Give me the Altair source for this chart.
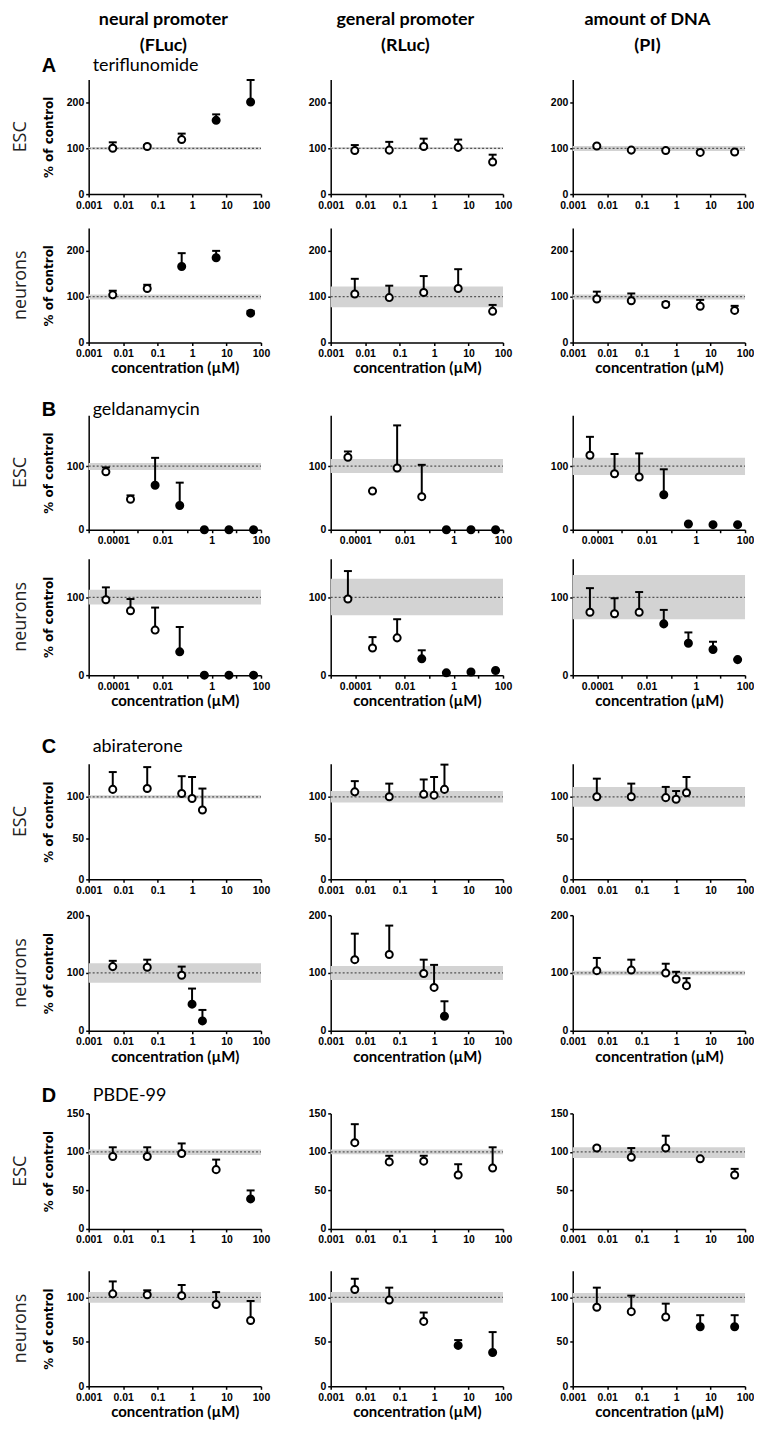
import altair as alt
import pandas as pd

# ---------------- text ----------------
HEADER_LINE1 = ["neural promoter", "general promoter", "amount of DNA"]
HEADER_LINE2 = ["(FLuc)", "(RLuc)", "(PI)"]
LETTERS = ["A", "B", "C", "D"]
COMPOUNDS = ["teriflunomide", "geldanamycin", "abiraterone", "PBDE-99"]
ROW_LABELS = ["ESC", "neurons"]
X_TITLE = "concentration (µM)"
Y_TITLE = "% of control"

# ---------------- concentrations (µM) ----------------
CONC_TERI = [0.005, 0.05, 0.5, 5, 50]
CONC_GELD = [0.00005, 0.0005, 0.005, 0.05, 0.5, 5, 50]
CONC_ABI = [0.005, 0.05, 0.5, 1, 2]
CONC_PBDE = [0.005, 0.05, 0.5, 5, 50]

X_DOMAIN_STD = [0.001, 100]
X_TICKS_STD = [0.001, 0.01, 0.1, 1, 10, 100]
X_DOMAIN_GELD = [0.00001, 100]
X_TICKS_GELD = [0.00001, 0.0001, 0.001, 0.01, 0.1, 1, 10, 100]

# ---------------- y axes ----------------
Y_DOMAIN_TERI = [0, 250]
Y_TICKS_TERI = [0, 100, 200]
Y_DOMAIN_GELD_ESC = [0, 180]
Y_DOMAIN_GELD_NEU = [0, 150]
Y_TICKS_GELD = [0, 100]
Y_DOMAIN_ABI_ESC = [0, 140]
Y_TICKS_ABI_ESC = [0, 50, 100]
Y_DOMAIN_ABI_NEU = [0, 200]
Y_TICKS_ABI_NEU = [0, 100, 200]
Y_DOMAIN_PBDE_ESC = [0, 150]
Y_TICKS_PBDE_ESC = [0, 50, 100, 150]
Y_DOMAIN_PBDE_NEU = [0, 130]
Y_TICKS_PBDE_NEU = [0, 50, 100]

# ---------------- A: teriflunomide ----------------
A_ESC_FLUC_MEAN = [100, 104, 119, 161, 201]
A_ESC_FLUC_TOP = [113, 107, 132, 174, 249]
A_ESC_FLUC_SIG = [0, 0, 0, 1, 1]
A_ESC_FLUC_BAND = [97, 103]
A_ESC_RLUC_MEAN = [95, 96, 104, 102, 70]
A_ESC_RLUC_TOP = [107, 114, 121, 119, 86]
A_ESC_RLUC_SIG = [0, 0, 0, 0, 0]
A_ESC_RLUC_BAND = [98, 102]
A_ESC_PI_MEAN = [105, 96, 95, 91, 92]
A_ESC_PI_TOP = [107, 98, 97, 93, 94]
A_ESC_PI_SIG = [0, 0, 0, 0, 0]
A_ESC_PI_BAND = [94, 105]

A_NEU_FLUC_MEAN = [104, 118, 166, 185, 64]
A_NEU_FLUC_TOP = [113, 126, 195, 200, 69]
A_NEU_FLUC_SIG = [0, 0, 1, 1, 1]
A_NEU_FLUC_BAND = [94, 105]
A_NEU_RLUC_MEAN = [106, 98, 109, 118, 68]
A_NEU_RLUC_TOP = [139, 124, 145, 160, 82]
A_NEU_RLUC_SIG = [0, 0, 0, 0, 0]
A_NEU_RLUC_BAND = [77, 122]
A_NEU_PI_MEAN = [95, 91, 83, 79, 70]
A_NEU_PI_TOP = [111, 107, 88, 93, 80]
A_NEU_PI_SIG = [0, 0, 0, 0, 0]
A_NEU_PI_BAND = [94, 105]

# ---------------- B: geldanamycin ----------------
B_ESC_FLUC_MEAN = [91, 48, 70, 38, 0, 0, 0]
B_ESC_FLUC_TOP = [98, 54, 113, 74, 0, 0, 0]
B_ESC_FLUC_SIG = [0, 0, 1, 1, 1, 1, 1]
B_ESC_FLUC_BAND = [94, 105]
B_ESC_RLUC_MEAN = [114, 61, 97, 52, 0, 0, 0]
B_ESC_RLUC_TOP = [123, 61, 164, 102, 0, 0, 0]
B_ESC_RLUC_SIG = [0, 0, 0, 0, 1, 1, 1]
B_ESC_RLUC_BAND = [89, 111]
B_ESC_PI_MEAN = [117, 88, 83, 55, 9, 8, 8]
B_ESC_PI_TOP = [146, 119, 120, 95, 9, 8, 8]
B_ESC_PI_SIG = [0, 0, 0, 1, 1, 1, 1]
B_ESC_PI_BAND = [86, 113]

B_NEU_FLUC_MEAN = [97, 83, 58, 30, 0, 0, 0]
B_NEU_FLUC_TOP = [113, 98, 87, 62, 0, 0, 0]
B_NEU_FLUC_SIG = [0, 0, 0, 1, 1, 1, 1]
B_NEU_FLUC_BAND = [91, 110]
B_NEU_RLUC_MEAN = [98, 35, 48, 21, 3, 4, 6]
B_NEU_RLUC_TOP = [134, 49, 72, 32, 3, 4, 6]
B_NEU_RLUC_SIG = [0, 0, 0, 1, 1, 1, 1]
B_NEU_RLUC_BAND = [77, 124]
B_NEU_PI_MEAN = [81, 79, 81, 66, 41, 33, 20]
B_NEU_PI_TOP = [112, 99, 107, 84, 55, 43, 20]
B_NEU_PI_SIG = [0, 0, 0, 1, 1, 1, 1]
B_NEU_PI_BAND = [72, 129]

# ---------------- C: abiraterone ----------------
C_ESC_FLUC_MEAN = [109, 110, 104, 98, 84]
C_ESC_FLUC_TOP = [130, 136, 125, 124, 110]
C_ESC_FLUC_SIG = [0, 0, 0, 0, 0]
C_ESC_FLUC_BAND = [98, 102]
C_ESC_RLUC_MEAN = [106, 100, 103, 102, 109]
C_ESC_RLUC_TOP = [119, 116, 121, 124, 139]
C_ESC_RLUC_SIG = [0, 0, 0, 0, 0]
C_ESC_RLUC_BAND = [93, 107]
C_ESC_PI_MEAN = [100, 100, 99, 97, 105]
C_ESC_PI_TOP = [122, 116, 112, 107, 124]
C_ESC_PI_SIG = [0, 0, 0, 0, 0]
C_ESC_PI_BAND = [88, 112]

C_NEU_FLUC_MEAN = [111, 110, 96, 46, 17]
C_NEU_FLUC_TOP = [121, 123, 111, 73, 36]
C_NEU_FLUC_SIG = [0, 0, 0, 1, 1]
C_NEU_FLUC_BAND = [83, 117]
C_NEU_RLUC_MEAN = [123, 132, 99, 75, 25]
C_NEU_RLUC_TOP = [168, 182, 123, 114, 51]
C_NEU_RLUC_SIG = [0, 0, 0, 0, 1]
C_NEU_RLUC_BAND = [88, 112]
C_NEU_PI_MEAN = [104, 105, 100, 89, 78]
C_NEU_PI_TOP = [126, 123, 116, 102, 91]
C_NEU_PI_SIG = [0, 0, 0, 0, 0]
C_NEU_PI_BAND = [96, 104]

# ---------------- D: PBDE-99 ----------------
D_ESC_FLUC_MEAN = [94, 94, 98, 77, 39]
D_ESC_FLUC_TOP = [106, 106, 111, 90, 50]
D_ESC_FLUC_SIG = [0, 0, 0, 0, 1]
D_ESC_FLUC_BAND = [96, 103]
D_ESC_RLUC_MEAN = [112, 87, 88, 70, 79]
D_ESC_RLUC_TOP = [136, 95, 95, 84, 106]
D_ESC_RLUC_SIG = [0, 0, 0, 0, 0]
D_ESC_RLUC_BAND = [97, 103]
D_ESC_PI_MEAN = [105, 93, 105, 91, 70]
D_ESC_PI_TOP = [107, 105, 121, 92, 78]
D_ESC_PI_SIG = [0, 0, 0, 0, 0]
D_ESC_PI_BAND = [92, 106]

D_NEU_FLUC_MEAN = [104, 103, 102, 92, 74]
D_NEU_FLUC_TOP = [118, 108, 114, 106, 96]
D_NEU_FLUC_SIG = [0, 0, 0, 0, 0]
D_NEU_FLUC_BAND = [94, 106]
D_NEU_RLUC_MEAN = [109, 97, 73, 46, 38]
D_NEU_RLUC_TOP = [121, 111, 83, 52, 61]
D_NEU_RLUC_SIG = [0, 0, 0, 1, 1]
D_NEU_RLUC_BAND = [94, 106]
D_NEU_PI_MEAN = [89, 84, 78, 67, 67]
D_NEU_PI_TOP = [111, 102, 93, 80, 80]
D_NEU_PI_SIG = [0, 0, 0, 1, 1]
D_NEU_PI_BAND = [94, 105]

# ---------------- layout constants ----------------
PANEL_W = 173
COL_GAP = 70
ROW_HEIGHTS = [115, 115, 115, 117, 116, 116, 116, 116]
ROW_GAPS = [34, 73, 29, 89, 36, 83, 42]
GROUP_LABEL_DY = [-14, -5, -17, -17]

TICK_FONT = "Liberation Sans Narrow, Liberation Sans, Arial, sans-serif"
CAL_FONT = "Lato, Open Sans, sans-serif"

ROWS = [
    (0, 0, CONC_TERI, X_DOMAIN_STD, X_TICKS_STD, False, Y_DOMAIN_TERI, Y_TICKS_TERI,
     [(A_ESC_FLUC_MEAN, A_ESC_FLUC_TOP, A_ESC_FLUC_SIG, A_ESC_FLUC_BAND),
      (A_ESC_RLUC_MEAN, A_ESC_RLUC_TOP, A_ESC_RLUC_SIG, A_ESC_RLUC_BAND),
      (A_ESC_PI_MEAN, A_ESC_PI_TOP, A_ESC_PI_SIG, A_ESC_PI_BAND)]),
    (0, 1, CONC_TERI, X_DOMAIN_STD, X_TICKS_STD, False, Y_DOMAIN_TERI, Y_TICKS_TERI,
     [(A_NEU_FLUC_MEAN, A_NEU_FLUC_TOP, A_NEU_FLUC_SIG, A_NEU_FLUC_BAND),
      (A_NEU_RLUC_MEAN, A_NEU_RLUC_TOP, A_NEU_RLUC_SIG, A_NEU_RLUC_BAND),
      (A_NEU_PI_MEAN, A_NEU_PI_TOP, A_NEU_PI_SIG, A_NEU_PI_BAND)]),
    (1, 0, CONC_GELD, X_DOMAIN_GELD, X_TICKS_GELD, True, Y_DOMAIN_GELD_ESC, Y_TICKS_GELD,
     [(B_ESC_FLUC_MEAN, B_ESC_FLUC_TOP, B_ESC_FLUC_SIG, B_ESC_FLUC_BAND),
      (B_ESC_RLUC_MEAN, B_ESC_RLUC_TOP, B_ESC_RLUC_SIG, B_ESC_RLUC_BAND),
      (B_ESC_PI_MEAN, B_ESC_PI_TOP, B_ESC_PI_SIG, B_ESC_PI_BAND)]),
    (1, 1, CONC_GELD, X_DOMAIN_GELD, X_TICKS_GELD, True, Y_DOMAIN_GELD_NEU, Y_TICKS_GELD,
     [(B_NEU_FLUC_MEAN, B_NEU_FLUC_TOP, B_NEU_FLUC_SIG, B_NEU_FLUC_BAND),
      (B_NEU_RLUC_MEAN, B_NEU_RLUC_TOP, B_NEU_RLUC_SIG, B_NEU_RLUC_BAND),
      (B_NEU_PI_MEAN, B_NEU_PI_TOP, B_NEU_PI_SIG, B_NEU_PI_BAND)]),
    (2, 0, CONC_ABI, X_DOMAIN_STD, X_TICKS_STD, False, Y_DOMAIN_ABI_ESC, Y_TICKS_ABI_ESC,
     [(C_ESC_FLUC_MEAN, C_ESC_FLUC_TOP, C_ESC_FLUC_SIG, C_ESC_FLUC_BAND),
      (C_ESC_RLUC_MEAN, C_ESC_RLUC_TOP, C_ESC_RLUC_SIG, C_ESC_RLUC_BAND),
      (C_ESC_PI_MEAN, C_ESC_PI_TOP, C_ESC_PI_SIG, C_ESC_PI_BAND)]),
    (2, 1, CONC_ABI, X_DOMAIN_STD, X_TICKS_STD, False, Y_DOMAIN_ABI_NEU, Y_TICKS_ABI_NEU,
     [(C_NEU_FLUC_MEAN, C_NEU_FLUC_TOP, C_NEU_FLUC_SIG, C_NEU_FLUC_BAND),
      (C_NEU_RLUC_MEAN, C_NEU_RLUC_TOP, C_NEU_RLUC_SIG, C_NEU_RLUC_BAND),
      (C_NEU_PI_MEAN, C_NEU_PI_TOP, C_NEU_PI_SIG, C_NEU_PI_BAND)]),
    (3, 0, CONC_PBDE, X_DOMAIN_STD, X_TICKS_STD, False, Y_DOMAIN_PBDE_ESC, Y_TICKS_PBDE_ESC,
     [(D_ESC_FLUC_MEAN, D_ESC_FLUC_TOP, D_ESC_FLUC_SIG, D_ESC_FLUC_BAND),
      (D_ESC_RLUC_MEAN, D_ESC_RLUC_TOP, D_ESC_RLUC_SIG, D_ESC_RLUC_BAND),
      (D_ESC_PI_MEAN, D_ESC_PI_TOP, D_ESC_PI_SIG, D_ESC_PI_BAND)]),
    (3, 1, CONC_PBDE, X_DOMAIN_STD, X_TICKS_STD, False, Y_DOMAIN_PBDE_NEU, Y_TICKS_PBDE_NEU,
     [(D_NEU_FLUC_MEAN, D_NEU_FLUC_TOP, D_NEU_FLUC_SIG, D_NEU_FLUC_BAND),
      (D_NEU_RLUC_MEAN, D_NEU_RLUC_TOP, D_NEU_RLUC_SIG, D_NEU_RLUC_BAND),
      (D_NEU_PI_MEAN, D_NEU_PI_TOP, D_NEU_PI_SIG, D_NEU_PI_BAND)]),
]


def text_layer(txt, x, y, **mark):
    return alt.Chart(pd.DataFrame({"t": [txt]})).mark_text(**mark).encode(
        text="t:N", x=alt.value(x), y=alt.value(y))


def make_panel(conc, mean, top, sig, band, xdom, xticks, odd, ydom, yticks,
               height, col, row_idx, group, row_type):
    df = pd.DataFrame({"conc": conc, "mean": mean, "top": top,
                       "state": ["filled" if s else "open" for s in sig]})
    ref = pd.DataFrame({"conc": [xdom[0]], "conc_end": [xdom[1]],
                        "lo": [band[0]], "hi": [band[1]], "ctrl": [100]})
    if odd:
        lexpr = "(abs(round(log(datum.value) / LN10)) % 2 == 0) ? format(datum.value, '~g') : ''"
    else:
        lexpr = "format(datum.value, '~g')"
    xaxis = alt.Axis(values=xticks, labelExpr=lexpr, labelFlush=False, labelOverlap=False,
                     title=X_TITLE if row_type == 1 else None,
                     tickSize=3, labelPadding=3, titlePadding=2,
                     titleFont=CAL_FONT, titleFontSize=15, titleFontWeight="bold")
    yaxis = alt.Axis(values=yticks, title=Y_TITLE if col == 0 else None,
                     tickSize=3, labelPadding=2, titlePadding=11,
                     titleFont="DejaVu Sans, sans-serif", titleFontSize=12,
                     titleFontWeight="bold")
    xs = alt.Scale(type="log", domain=xdom, nice=False)
    ys = alt.Scale(domain=ydom, nice=False, zero=False)

    band_l = alt.Chart(ref).mark_rect(color="#d3d3d3").encode(
        x=alt.X("conc:Q", scale=xs, axis=xaxis), x2="conc_end:Q",
        y=alt.Y("lo:Q", scale=ys, axis=yaxis), y2="hi:Q")
    ctrl_l = alt.Chart(ref).mark_rule(color="#555555", strokeDash=[2, 2], strokeWidth=1.3).encode(
        x=alt.X("conc:Q", scale=xs, axis=xaxis), x2="conc_end:Q",
        y=alt.Y("ctrl:Q", scale=ys, axis=yaxis))
    err_l = alt.Chart(df).mark_rule(color="black", strokeWidth=2).encode(
        x=alt.X("conc:Q", scale=xs, axis=xaxis),
        y=alt.Y("mean:Q", scale=ys, axis=yaxis), y2="top:Q")
    cap_l = alt.Chart(df).mark_tick(color="black", orient="horizontal", size=8,
                                     thickness=2, opacity=1).encode(
        x=alt.X("conc:Q", scale=xs, axis=xaxis),
        y=alt.Y("top:Q", scale=ys, axis=yaxis))
    pt_l = alt.Chart(df).mark_point(shape="circle", filled=True, size=50, stroke="black",
                                     strokeWidth=2, opacity=1).encode(
        x=alt.X("conc:Q", scale=xs, axis=xaxis),
        y=alt.Y("mean:Q", scale=ys, axis=yaxis),
        fill=alt.Fill("state:N", scale=alt.Scale(domain=["open", "filled"],
                                                 range=["white", "black"]), legend=None))
    layers = [band_l, ctrl_l, err_l, cap_l, pt_l]

    if row_idx == 0:
        layers.append(text_layer(HEADER_LINE1[col], 75, -60, font=CAL_FONT, fontSize=18,
                                 fontWeight="bold", align="center", baseline="middle",
                                 color="black"))
        layers.append(text_layer(HEADER_LINE2[col], 75, -34, font=CAL_FONT, fontSize=18,
                                 fontWeight="bold", align="center", baseline="middle",
                                 color="black"))
    if col == 0:
        layers.append(text_layer(ROW_LABELS[row_type], -68, height / 2, angle=270,
                                 font="Open Sans, sans-serif", fontSize=18,
                                 align="center", baseline="middle", color="#222222"))
        if row_type == 0:
            dy = GROUP_LABEL_DY[group]
            layers.append(text_layer(LETTERS[group], -40, dy,
                                     font="Liberation Sans, Arial, sans-serif",
                                     fontSize=20, fontWeight="bold", align="center",
                                     baseline="middle", color="black"))
            layers.append(text_layer(COMPOUNDS[group], 4, dy, font=CAL_FONT, fontSize=18,
                                     align="left", baseline="middle", color="black"))
    return alt.layer(*layers).properties(width=PANEL_W, height=height)


def spacer(h):
    return alt.Chart(pd.DataFrame({"v": [0]})).mark_point(opacity=0, size=1).encode(
        x=alt.value(0), y=alt.value(0)).properties(width=PANEL_W, height=h)


cells = []
for i, (group, row_type, conc, xdom, xticks, odd, ydom, yticks, panels) in enumerate(ROWS):
    h = ROW_HEIGHTS[i]
    for c, (mean, top, sig, band) in enumerate(panels):
        cells.append(make_panel(conc, mean, top, sig, band, xdom, xticks, odd, ydom, yticks,
                                h, c, i, group, row_type))
    if i < len(ROW_GAPS):
        for c in range(3):
            cells.append(spacer(ROW_GAPS[i]))

chart = alt.concat(*cells, columns=3, spacing={"row": 0, "column": COL_GAP},
                   bounds="flush").properties(
    padding={"left": 4, "top": 0, "right": 0, "bottom": 0}
).configure_view(stroke=None).configure_axis(
    grid=False, domainColor="black", domainWidth=1.5, tickColor="black", tickWidth=1.5,
    labelColor="black", labelFont=TICK_FONT, labelFontSize=10.5, labelFontWeight="bold",
    titleColor="black"
)

chart.save("out.html", embed_options={"renderer": "svg", "actions": False})
